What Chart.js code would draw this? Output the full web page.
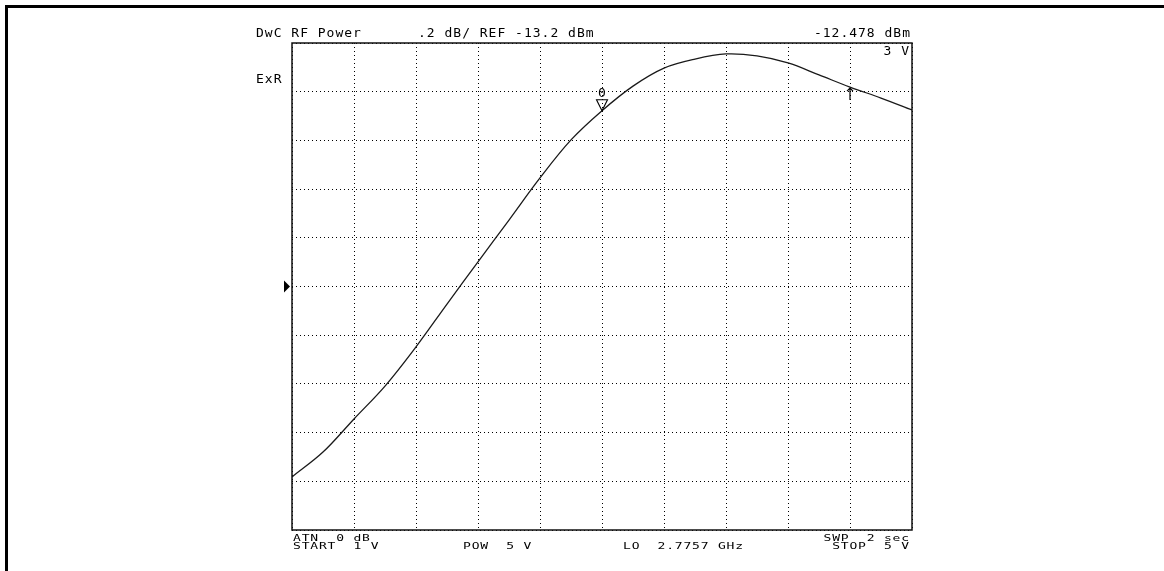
<!DOCTYPE html>
<html>
<head>
<meta charset="utf-8">
<script src="https://cdn.jsdelivr.net/npm/chart.js@4/dist/chart.umd.min.js"></script>
<style>
  html, body { margin: 0; padding: 0; background: #fff; }
  #wrap { position: relative; width: 1164px; height: 571px; }
</style>
</head>
<body>
<div id="wrap"><canvas id="c" width="1164" height="571"></canvas></div>
<script>
// Swept control voltage (V) and measured RF power (dBm)
const voltages = [1.0, 1.2, 1.4, 1.6, 1.8, 2.0, 2.2, 2.4, 2.6, 2.8, 3.0,
                  3.2, 3.4, 3.6, 3.8, 4.0, 4.2, 4.4, 4.6, 4.8, 5.0];
const powerDbm = [-13.982, -13.880, -13.744, -13.609, -13.448, -13.272, -13.099,
                  -12.927, -12.754, -12.598, -12.478, -12.377, -12.303, -12.266,
                  -12.245, -12.253, -12.282, -12.331, -12.381, -12.426, -12.475];

// Graticule divisions: 10 x 10
const xGridTicks = [1.0, 1.4, 1.8, 2.2, 2.6, 3.0, 3.4, 3.8, 4.2, 4.6, 5.0];
const yGridTicks = [-14.2, -14.0, -13.8, -13.6, -13.4, -13.2, -13.0, -12.8, -12.6, -12.4, -12.2];

// Reference level and markers
const refLevelDbm = -13.2;
const activeMarker = { volts: 3.0, dbm: -12.478 };
const cursorMarkerVolts = 4.6;

// Annotation text
const headerLeft = 'DwC RF Power';
const headerScale = '.2 dB/ REF -13.2 dBm';
const headerReadout = '-12.478 dBm';
const markerStimulus = '3 V';
const channelLabel = 'ExR';
const footerRow1 = [{ t: 'ATN  0 dB', a: 'left' }, { t: 'SWP  2 sec', a: 'right' }];
const footerRow2 = [{ t: 'START  1 V', a: 'left' }, { t: 'POW  5 V', a: 'left', x: 463 },
                    { t: 'LO  2.7757 GHz', a: 'left', x: 623 }, { t: 'STOP  5 V', a: 'right' }];

const FONT = '"DejaVu Sans Mono", "Liberation Mono", monospace';

function drawText(ctx, text, x, y, align, size, spacing, sy) {
  ctx.save();
  ctx.font = size + 'px ' + FONT;
  ctx.letterSpacing = spacing + 'px';
  ctx.fillStyle = '#000';
  ctx.textBaseline = 'alphabetic';
  const w = ctx.measureText(text).width - spacing;
  const x0 = align === 'right' ? x - w : x;
  ctx.translate(x0, y);
  ctx.scale(1, sy || 1);
  ctx.textAlign = 'left';
  ctx.fillText(text, 0, 0);
  ctx.restore();
}

const overlay = {
  id: 'analyzerOverlay',
  beforeDraw(chart) {
    const ctx = chart.ctx;
    ctx.save();
    ctx.fillStyle = '#fff';
    ctx.fillRect(0, 0, chart.width, chart.height);
    // outer page frame
    ctx.fillStyle = '#000';
    ctx.fillRect(5, 5, chart.width - 5, 3);
    ctx.fillRect(5, 5, 3, chart.height - 5);
    ctx.restore();
  },
  afterDraw(chart) {
    const ctx = chart.ctx;
    const a = chart.chartArea;
    const xs = chart.scales.x, ys = chart.scales.y;

    // graticule frame
    ctx.save();
    ctx.strokeStyle = '#111';
    ctx.lineWidth = 1.5;
    ctx.strokeRect(a.left, a.top, a.right - a.left, a.bottom - a.top);
    ctx.restore();

    // text
    drawText(ctx, headerLeft, 256, 37, 'left', 13, 1.0, 0.88);
    drawText(ctx, headerScale, 418, 37, 'left', 13, 1.0, 0.88);
    drawText(ctx, headerReadout, 910, 37, 'right', 13, 1.0, 0.88);
    drawText(ctx, markerStimulus, 909, 55, 'right', 13, 1.0, 0.88);
    drawText(ctx, channelLabel, 256, 83, 'left', 13, 1.0, 0.88);
    footerRow1.forEach(f => drawText(ctx, f.t, f.x || (f.a === 'right' ? 909 : 293), 540.5, f.a, 13, 0.8, 0.66));
    footerRow2.forEach(f => drawText(ctx, f.t, f.x || (f.a === 'right' ? 909 : 293), 548.5, f.a, 13, 0.8, 0.66));

    // reference position indicator
    const ry = ys.getPixelForValue(refLevelDbm);
    ctx.save();
    ctx.fillStyle = '#000';
    ctx.beginPath();
    ctx.moveTo(284, ry - 6);
    ctx.lineTo(290, ry);
    ctx.lineTo(284, ry + 6);
    ctx.closePath();
    ctx.fill();
    ctx.restore();

    // active marker: outlined down-triangle with its number above
    const mx = xs.getPixelForValue(activeMarker.volts);
    const my = ys.getPixelForValue(activeMarker.dbm);
    ctx.save();
    ctx.strokeStyle = '#000';
    ctx.lineWidth = 1.1;
    ctx.beginPath();
    ctx.moveTo(mx - 5.5, my - 11);
    ctx.lineTo(mx + 5.5, my - 11);
    ctx.lineTo(mx, my);
    ctx.closePath();
    ctx.stroke();
    ctx.restore();
    drawText(ctx, '0', mx - 3.9, my - 14, 'left', 13, 0, 0.9);

    // cursor marker arrow on the trace
    const ci = voltages.indexOf(cursorMarkerVolts);
    const cx = xs.getPixelForValue(cursorMarkerVolts);
    const cy = ys.getPixelForValue(powerDbm[ci]);
    ctx.save();
    ctx.strokeStyle = '#000';
    ctx.lineWidth = 1.2;
    ctx.beginPath();
    ctx.moveTo(cx, cy + 1);
    ctx.lineTo(cx, cy + 13);
    ctx.moveTo(cx - 3, cy + 4);
    ctx.lineTo(cx, cy + 1);
    ctx.lineTo(cx + 3, cy + 4);
    ctx.stroke();
    ctx.restore();
  }
};

new Chart(document.getElementById('c'), {
  type: 'line',
  data: {
    labels: voltages,
    datasets: [{
      data: voltages.map((v, i) => ({ x: v, y: powerDbm[i] })),
      borderColor: '#1a1a1a',
      borderWidth: 1.3,
      pointRadius: 0,
      tension: 0.35,
      fill: false
    }]
  },
  options: {
    responsive: false,
    animation: false,
    events: [],
    layout: { padding: { left: 292, right: 252, top: 43, bottom: 41 } },
    plugins: { legend: { display: false }, tooltip: { enabled: false } },
    scales: {
      x: {
        type: 'linear', min: 1, max: 5,
        afterBuildTicks: s => { s.ticks = xGridTicks.map(v => ({ value: v })); },
        ticks: { display: false },
        grid: { color: '#000', lineWidth: 1, drawTicks: false },
        border: { display: false, dash: [1, 3] }
      },
      y: {
        type: 'linear', min: -14.2, max: -12.2,
        afterBuildTicks: s => { s.ticks = yGridTicks.map(v => ({ value: v })); },
        ticks: { display: false },
        grid: { color: '#000', lineWidth: 1, drawTicks: false },
        border: { display: false, dash: [1, 3] }
      }
    }
  },
  plugins: [overlay]
});
</script>
</body>
</html>
